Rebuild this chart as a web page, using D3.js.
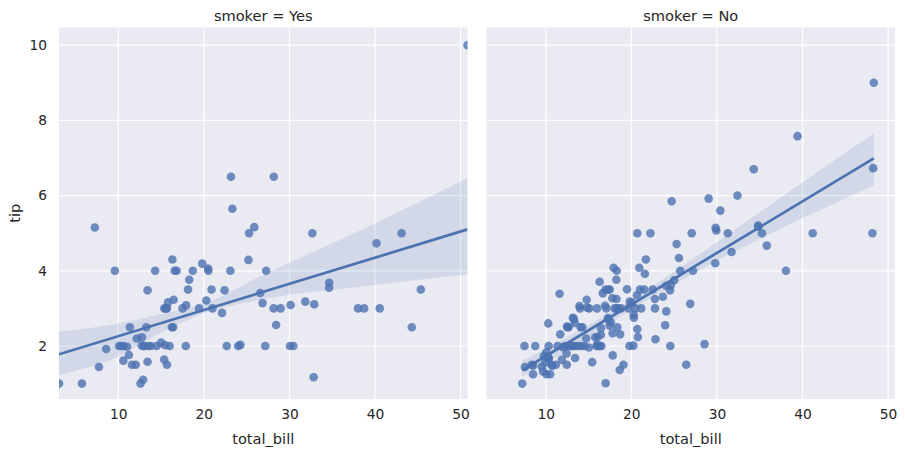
<!DOCTYPE html>
<html>
<head>
<meta charset="utf-8">
<script src="https://cdn.jsdelivr.net/npm/d3@7"></script>
<style>
  body { margin: 0; background: #fff; }
  svg { display: block; font-family: "DejaVu Sans", sans-serif; }
</style>
</head>
<body>
<svg id="chart" width="905" height="456"></svg>
<script>
// tips data, split by smoker
var yesBill = [38.01,11.24,20.29,13.81,11.02,18.29,3.07,15.01,26.86,25.28,17.92,19.44,32.68,28.97,5.75,16.32,40.17,27.28,12.03,21.01,
  11.35,15.38,44.3,22.42,15.36,20.49,25.21,14.31,16.0,17.51,10.59,10.63,50.81,15.81,7.25,31.85,16.82,32.9,17.89,14.48,
  9.6,34.63,34.65,23.33,45.35,23.17,40.55,20.9,30.46,18.15,23.1,15.69,19.81,28.44,15.48,16.58,10.34,43.11,13.0,13.51,
  18.71,12.74,13.0,16.4,20.53,16.47,26.59,38.73,24.27,12.76,30.06,25.89,13.27,28.17,12.9,28.15,11.59,7.74,30.14,12.16,
  13.42,8.58,13.42,16.27,10.09,22.12,24.01,15.69,15.53,12.6,32.83,27.18,22.67]
var yesTip = [3.0,1.76,3.21,2.0,1.98,3.76,1.0,2.09,3.14,5.0,3.08,3.0,5.0,3.0,1.0,4.3,4.73,4.0,1.5,3.0,
  2.5,3.0,2.5,3.48,1.64,4.06,4.29,4.0,2.0,3.0,1.61,2.0,10.0,3.16,5.15,3.18,4.0,3.11,2.0,2.0,
  4.0,3.55,3.68,5.65,3.5,6.5,3.0,3.5,2.0,3.5,4.0,1.5,4.19,2.56,2.02,4.0,2.0,5.0,2.0,2.0,
  4.0,2.01,2.0,2.5,4.0,3.23,3.41,3.0,2.03,2.23,2.0,5.16,2.5,6.5,1.1,3.0,1.5,1.44,3.09,2.2,
  3.48,1.92,1.58,2.5,2.0,2.88,2.0,3.0,3.0,1.0,1.17,2.0,2.0]

var noBill = [16.99,10.34,21.01,23.68,24.59,25.29,8.77,26.88,15.04,14.78,10.27,35.26,15.42,18.43,14.83,21.58,10.33,16.29,16.97,20.65,
  17.92,20.29,15.77,39.42,19.82,17.81,13.37,12.69,21.7,19.65,9.55,18.35,15.06,20.69,17.78,24.06,16.31,16.93,18.69,31.27,
  16.04,17.46,13.94,9.68,30.4,18.29,22.23,32.4,28.55,18.04,12.54,10.29,34.81,9.94,25.56,19.49,26.41,48.27,17.59,20.08,
  16.45,20.23,12.02,17.07,14.73,10.51,27.2,22.76,17.29,16.66,10.07,15.98,34.83,13.03,18.28,24.71,21.16,22.49,22.75,12.46,
  20.92,18.24,14.0,7.25,38.07,23.95,25.71,17.31,29.93,10.65,12.43,24.08,11.69,13.42,14.26,15.95,12.48,29.8,8.52,14.52,
  11.38,22.82,19.08,20.27,11.17,12.26,18.26,8.51,10.33,14.15,13.16,17.47,34.3,41.19,27.05,16.43,8.35,18.64,11.87,9.78,
  7.51,14.07,13.13,17.26,24.55,19.77,29.85,48.17,25.0,13.39,16.49,21.5,12.66,16.21,13.81,24.52,20.76,31.71,20.69,7.56,
  48.33,15.98,20.45,13.28,11.61,10.77,10.07,35.83,29.03,17.82,18.78]
var noTip = [1.01,1.66,3.5,3.31,3.61,4.71,2.0,3.12,1.96,3.23,1.71,5.0,1.57,3.0,3.02,3.92,1.67,3.71,3.5,3.35,
  4.08,2.75,2.23,7.58,3.18,2.34,2.0,2.0,4.3,3.0,1.45,2.5,3.0,2.45,3.27,3.6,2.0,3.07,2.31,5.0,
  2.24,2.54,3.06,1.32,5.6,3.0,5.0,6.0,2.05,3.0,2.5,2.6,5.2,1.56,4.34,3.51,1.5,6.73,2.64,3.15,
  2.47,2.01,1.97,3.0,2.2,1.25,4.0,3.0,2.71,3.4,1.83,2.03,5.17,2.0,4.0,5.85,3.0,3.5,3.25,1.5,
  4.08,3.76,3.0,1.0,4.0,2.55,4.0,3.5,5.07,1.5,1.8,2.92,2.31,1.68,2.5,2.0,2.52,4.2,1.48,2.0,
  2.0,2.18,1.5,2.83,1.5,2.0,3.25,1.25,2.0,2.0,2.75,3.5,6.7,5.0,5.0,2.3,1.5,1.36,1.63,1.73,
  2.0,2.5,2.0,2.74,2.0,2.0,5.14,5.0,3.75,2.61,2.0,3.5,2.5,2.0,2.0,3.48,2.24,4.5,5.0,1.44,
  9.0,3.0,3.0,2.72,3.39,1.47,1.25,4.67,5.92,1.75,3.0]

// 95% band of the fit at a few bill values
var yesBandX = [3.07, 10, 15, 20, 26.5, 40, 50.81]
var yesBandHi = [2.38, 2.60, 2.85, 3.12, 3.84, 5.26, 6.46]
var yesBandLo = [1.23, 1.72, 2.35, 2.87, 3.22, 3.62, 3.91]
var noBandX = [7.25, 10, 20, 30, 40, 48.33]
var noBandHi = [1.61, 1.93, 3.23, 4.76, 6.35, 7.65]
var noBandLo = [1.19, 1.53, 2.97, 4.27, 5.40, 6.27]

var titles = ["smoker = Yes", "smoker = No"]
var xTicks = [10, 20, 30, 40, 50]
var yTicks = [2, 4, 6, 8, 10]

var panels = [
  { title: titles[0], bill: yesBill, tip: yesTip, bx: yesBandX, hi: yesBandHi, lo: yesBandLo, left: 59, right: 467.5 },
  { title: titles[1], bill: noBill, tip: noTip, bx: noBandX, hi: noBandHi, lo: noBandLo, left: 486.5, right: 895 }
]

var plotTop = 27.5, plotBottom = 399
var blue = "#4C72B0", ink = "#262626"
var svg = d3.select("#chart")

var y = d3.scaleLinear().domain([0.59, 10.47]).range([plotBottom, plotTop])

// ordinary least squares, like regplot's line
function fit(xs, ys) {
  var mx = d3.mean(xs), my = d3.mean(ys)
  var sxy = d3.sum(xs, (v, i) => (v - mx) * (ys[i] - my))
  var sxx = d3.sum(xs, v => (v - mx) * (v - mx))
  var b = sxy / sxx
  return { a: my - b * mx, b: b }
}

panels.forEach(function (p, k) {
  var x = d3.scaleLinear().domain([3.07, 50.81]).range([p.left, p.right])
  var g = svg.append("g")

  g.append("rect")
    .attr("x", p.left).attr("y", plotTop)
    .attr("width", p.right - p.left).attr("height", plotBottom - plotTop)
    .attr("fill", "#EAEAF2")

  // grid
  g.selectAll(".gx").data(xTicks).enter().append("line")
    .attr("x1", d => x(d)).attr("x2", d => x(d))
    .attr("y1", plotTop).attr("y2", plotBottom)
    .attr("stroke", "#fff").attr("stroke-width", 1.2)
  g.selectAll(".gy").data(yTicks).enter().append("line")
    .attr("x1", p.left).attr("x2", p.right)
    .attr("y1", d => y(d)).attr("y2", d => y(d))
    .attr("stroke", "#fff").attr("stroke-width", 1.2)

  var clipId = "clip" + k
  svg.append("clipPath").attr("id", clipId).append("rect")
    .attr("x", p.left).attr("y", plotTop)
    .attr("width", p.right - p.left).attr("height", plotBottom - plotTop)

  var plot = g.append("g").attr("clip-path", "url(#" + clipId + ")")

  var band = d3.area()
    .x((d, i) => x(p.bx[i]))
    .y0((d, i) => y(p.lo[i]))
    .y1((d, i) => y(p.hi[i]))
    .curve(d3.curveMonotoneX)
  plot.append("path")
    .attr("d", band(p.bx))
    .attr("fill", blue).attr("fill-opacity", 0.15)

  plot.selectAll("circle").data(p.bill).enter().append("circle")
    .attr("cx", d => x(d))
    .attr("cy", (d, i) => y(p.tip[i]))
    .attr("r", 4.3)
    .attr("fill", blue).attr("fill-opacity", 0.8)

  var f = fit(p.bill, p.tip)
  var ends = d3.extent(p.bill)
  plot.append("line")
    .attr("x1", x(ends[0])).attr("y1", y(f.a + f.b * ends[0]))
    .attr("x2", x(ends[1])).attr("y2", y(f.a + f.b * ends[1]))
    .attr("stroke", blue).attr("stroke-width", 2.7)

  // x axis
  var xAxis = g.append("g")
    .attr("transform", `translate(0,${plotBottom})`)
    .call(d3.axisBottom(x).tickValues(xTicks).tickSize(0).tickPadding(10))
  xAxis.select(".domain").remove()
  xAxis.selectAll("text").attr("font-size", 13.8).attr("fill", ink)
    .attr("font-family", "DejaVu Sans")

  if (k === 0) {
    var yAxis = g.append("g")
      .attr("transform", `translate(${p.left},0)`)
      .call(d3.axisLeft(y).tickValues(yTicks).tickSize(0).tickPadding(12))
    yAxis.select(".domain").remove()
    yAxis.selectAll("text").attr("font-size", 13.8).attr("fill", ink)
      .attr("font-family", "DejaVu Sans")

    g.append("text")
      .attr("transform", `translate(20,${(plotTop + plotBottom) / 2}) rotate(-90)`)
      .attr("text-anchor", "middle")
      .attr("font-size", 14.6).attr("fill", ink)
      .text("tip")
  }

  g.append("text")
    .attr("x", (p.left + p.right) / 2).attr("y", 444)
    .attr("text-anchor", "middle")
    .attr("font-size", 14.6).attr("fill", ink)
    .text("total_bill")

  g.append("text")
    .attr("x", (p.left + p.right) / 2).attr("y", 21)
    .attr("text-anchor", "middle")
    .attr("font-size", 14.6).attr("fill", ink)
    .text(p.title)
})
</script>
</body>
</html>
